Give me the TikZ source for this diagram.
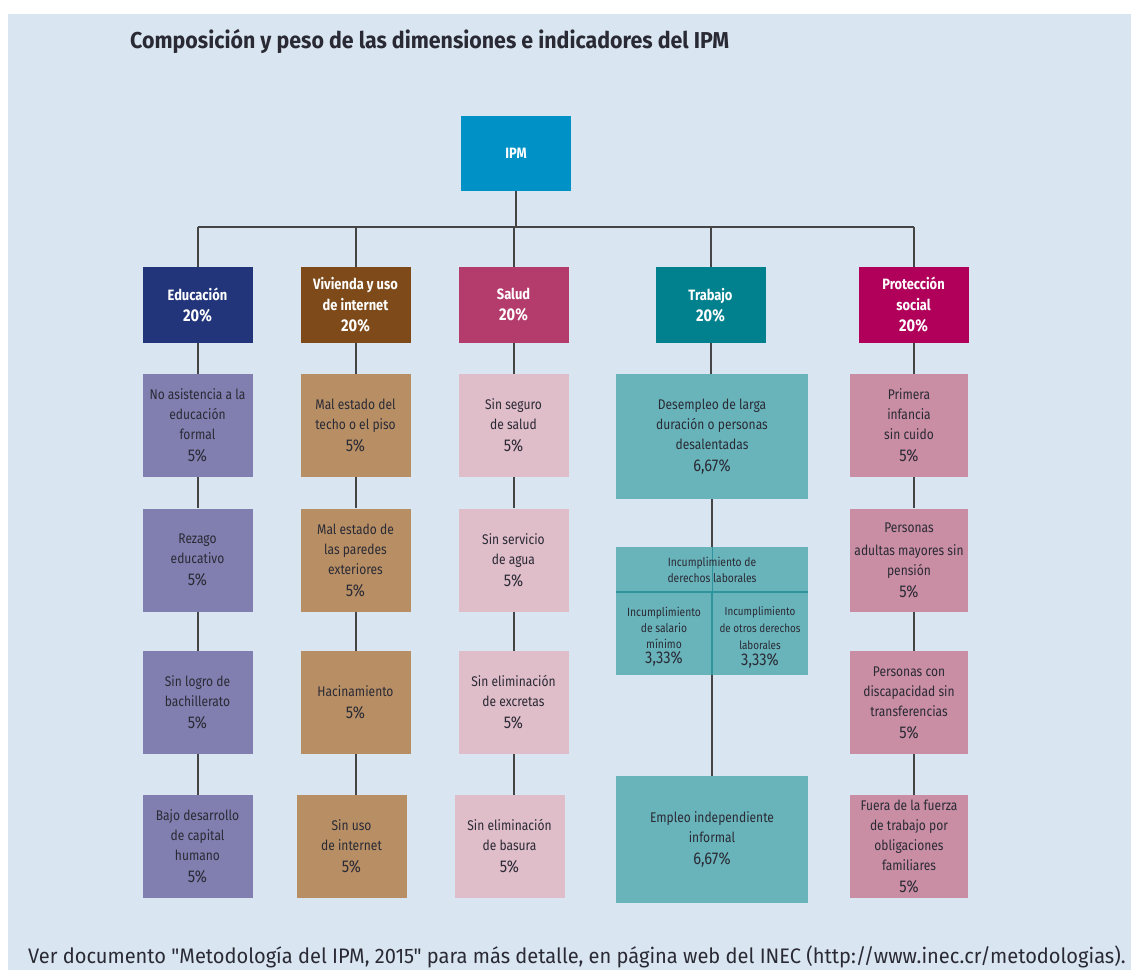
\documentclass[tikz,border=0pt]{standalone}
\usepackage{fontspec}
\setmainfont{Fira Sans}[FakeStretch=0.86]
\newfontfamily\titlefont{Fira Sans}[FakeStretch=0.93]
\newfontfamily\footfont{Fira Sans}[FakeStretch=0.955, Ligatures=TeXOff]
\definecolor{bgc}{HTML}{D9E6F1}
\definecolor{linec}{HTML}{454545}
\definecolor{txtc}{HTML}{2A2A35}
\definecolor{ipmc}{HTML}{0092C6}
\definecolor{educ}{HTML}{22347A}
\definecolor{eduind}{HTML}{807FB0}
\definecolor{vivc}{HTML}{7E4A1A}
\definecolor{vivind}{HTML}{B88F65}
\definecolor{salc}{HTML}{B43C6C}
\definecolor{salind}{HTML}{DFBDC9}
\definecolor{trac}{HTML}{00818D}
\definecolor{traind}{HTML}{69B4BA}
\definecolor{tradiv}{HTML}{2E949E}
\definecolor{proc}{HTML}{B0005A}
\definecolor{proind}{HTML}{C98EA3}
\newcommand{\pct}[1]{{\fontsize{17}{20}\selectfont #1}}
\begin{document}
\begin{tikzpicture}[x=1pt,y=-1pt,
  conn/.style={draw=linec, line width=2pt},
  topbox/.style={rectangle, inner sep=0pt, minimum width=110pt, minimum height=75pt,
    text=white, align=center, font=\bfseries\fontsize{15}{20}\selectfont},
  catbox/.style={rectangle, inner sep=0pt, minimum width=110pt, minimum height=76pt,
    text=white, align=center, font=\bfseries\fontsize{15}{21}\selectfont},
  indbox/.style={rectangle, inner sep=0pt, minimum width=110pt, minimum height=103pt,
    text=txtc, align=center, font=\fontsize{14}{20}\selectfont},
  smalltxt/.style={inner sep=0pt, text=txtc, align=center, font=\fontsize{12}{16}\selectfont}
]
\useasboundingbox (0,0) rectangle (1131,970);
\fill[bgc] (8,14) rectangle (1131,970);

\node[anchor=base west, inner sep=0pt, font=\titlefont\bfseries\fontsize{23}{26}\selectfont, text=txtc]
  (title) at (130,48) {Composición y peso de las dimensiones e indicadores del IPM};

% top
\node[topbox, fill=ipmc] (ipm) at (516,153.5) {IPM};

% categories
\node[catbox, fill=educ] (edu) at (197.5,305) {Educación\\\pct{20\%}};
\node[catbox, fill=vivc] (viv) at (355.5,305) {Vivienda y uso\\de internet\\\pct{20\%}};
\node[catbox, fill=salc] (sal) at (513.5,305) {Salud\\\pct{20\%}};
\node[catbox, fill=trac] (tra) at (710.5,305) {Trabajo\\\pct{20\%}};
\node[catbox, fill=proc] (pro) at (913.5,305) {Protección\\social\\\pct{20\%}};

% Educación
\node[indbox, fill=eduind] (e1) at (197.5,425.5) {No asistencia a la\\educación\\formal\\[2pt]\pct{5\%}};
\node[indbox, fill=eduind] (e2) at (197.5,560) {Rezago\\educativo\\[2pt]\pct{5\%}};
\node[indbox, fill=eduind] (e3) at (197.5,702.5) {Sin logro de\\bachillerato\\[2pt]\pct{5\%}};
\node[indbox, fill=eduind] (e4) at (197.5,846.5) {Bajo desarrollo\\de capital\\humano\\[2pt]\pct{5\%}};

% Vivienda
\node[indbox, fill=vivind] (v1) at (355.5,425.5) {Mal estado del\\techo o el piso\\[2pt]\pct{5\%}};
\node[indbox, fill=vivind] (v2) at (355.5,560) {Mal estado de\\las paredes\\exteriores\\[2pt]\pct{5\%}};
\node[indbox, fill=vivind] (v3) at (355.5,702.5) {Hacinamiento\\[2pt]\pct{5\%}};
\node[indbox, fill=vivind] (v4) at (351.5,846.5) {Sin uso\\de internet\\[2pt]\pct{5\%}};

% Salud
\node[indbox, fill=salind] (s1) at (513.5,425.5) {Sin seguro\\de salud\\[2pt]\pct{5\%}};
\node[indbox, fill=salind] (s2) at (513.5,560) {Sin servicio\\de agua\\[2pt]\pct{5\%}};
\node[indbox, fill=salind] (s3) at (513.5,702.5) {Sin eliminación\\de excretas\\[2pt]\pct{5\%}};
\node[indbox, fill=salind] (s4) at (509.5,846.5) {Sin eliminación\\de basura\\[2pt]\pct{5\%}};

% Trabajo
\node[indbox, fill=traind, minimum width=192pt, minimum height=125pt] (t1) at (712,436.5)
  {Desempleo de larga\\duración o personas\\desalentadas\\[2pt]\pct{6,67\%}};
\node[rectangle, inner sep=0pt, fill=traind, minimum width=192pt, minimum height=128pt] (t2) at (712,611) {};
\node[indbox, fill=traind, minimum width=192pt, minimum height=127pt] (t3) at (712,839.5)
  {Empleo independiente\\informal\\[2pt]\pct{6,67\%}};

% Protección social
\node[indbox, fill=proind, minimum width=118pt] (p1) at (909,425.5) {Primera\\infancia\\sin cuido\\[2pt]\pct{5\%}};
\node[indbox, fill=proind, minimum width=118pt] (p2) at (909,560) {Personas\\[3pt]adultas mayores sin\\pensión\\[2pt]\pct{5\%}};
\node[indbox, fill=proind, minimum width=118pt] (p3) at (909,702.5) {Personas con\\discapacidad sin\\transferencias\\[2pt]\pct{5\%}};
\node[indbox, fill=proind, minimum width=118pt] (p4) at (909,846.5) {Fuera de la fuerza\\de trabajo por\\obligaciones\\familiares\\[2pt]\pct{5\%}};

% connectors
\coordinate (jn) at (516,227);
\draw[conn] (ipm.south) -- (jn);
\draw[conn] (edu.north |- jn) -- (pro.north |- jn);
\foreach \c in {edu,viv,sal,tra,pro} { \draw[conn] (\c.north |- jn) -- (\c.north); }
\draw[conn] (edu.south) -- (edu.south |- e1.north);
\draw[conn] (e1.south) -- (e2.north);
\draw[conn] (e2.south) -- (e3.north);
\draw[conn] (e3.south) -- (e4.north);
\draw[conn] (viv.south) -- (viv.south |- v1.north);
\draw[conn] (v1.south) -- (v2.north);
\draw[conn] (v2.south) -- (v3.north);
\draw[conn] (v3.south) -- (v3.south |- v4.north);
\draw[conn] (sal.south) -- (sal.south |- s1.north);
\draw[conn] (s1.south) -- (s2.north);
\draw[conn] (s2.south) -- (s3.north);
\draw[conn] (s3.south) -- (s3.south |- s4.north);
\draw[conn] (tra.south) -- (tra.south |- t1.north);
\draw[conn] (t1.south) -- (t2.north);
\draw[conn] (t2.south) -- (t3.north);
\draw[conn] (pro.south) -- (pro.south |- p1.north);
\draw[conn] (pro.south |- p1.south) -- (pro.south |- p2.north);
\draw[conn] (pro.south |- p2.south) -- (pro.south |- p3.north);
\draw[conn] (pro.south |- p3.south) -- (pro.south |- p4.north);

% Trabajo split box internals
\coordinate (tdiv) at (712,592);
\draw[tradiv, line width=1.5pt] (t2.west |- tdiv) -- (t2.east |- tdiv);
\draw[tradiv, line width=1.5pt] (tdiv) -- (t2.south);
\draw[tradiv, line width=0.6pt] (t2.north) -- (tdiv);
\node[smalltxt] (t2h) at (712,569.5) {Incumplimiento de\\derechos laborales};
\node[smalltxt] (t2l) at (664,637) {Incumplimiento\\de salario\\mínimo\\[-1pt]\pct{3,33\%}};
\node[smalltxt, font=\fontsize{11.5}{17}\selectfont] (t2r) at (760,637) {Incumplimiento\\de otros derechos\\laborales\\[-1pt]\pct{3,33\%}};

\node[anchor=base west, inner sep=0pt, font=\footfont\fontsize{21}{24}\selectfont, text=txtc]
  (foot) at (28,963) {Ver documento "Metodología del IPM, 2015" para más detalle, en página web del INEC (http://www.inec.cr/metodologias).};
\end{tikzpicture}
\end{document}
